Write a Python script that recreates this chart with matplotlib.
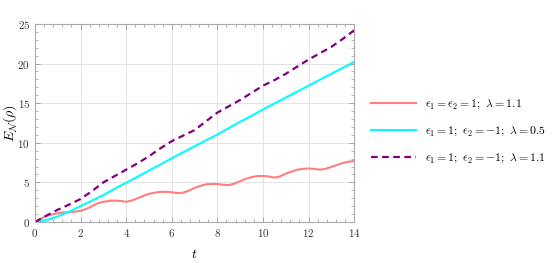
import matplotlib
matplotlib.use("Agg")
import matplotlib.pyplot as plt
from matplotlib.ticker import MultipleLocator, FuncFormatter

plt.rcParams['mathtext.fontset'] = 'cm'
plt.rcParams['font.family'] = 'serif'

# values
t = [0.0, 0.5, 1.0, 1.5, 2.0, 2.5, 3.0, 3.5, 4.0, 4.5, 5.0, 5.5, 6.0, 6.5,
     7.0, 7.5, 8.0, 8.5, 9.0, 9.5, 10.0, 10.5, 11.0, 11.5, 12.0, 12.5, 13.0,
     13.5, 14.0]

# red curve wiggles, so it is read at a finer step
t_red = [0.0, 0.25, 0.5, 0.75, 1.0, 1.25, 1.5, 1.75, 2.0, 2.25, 2.5, 2.75,
         3.0, 3.25, 3.5, 3.75, 4.0, 4.25, 4.5, 4.75, 5.0, 5.25, 5.5, 5.75,
         6.0, 6.25, 6.5, 6.75, 7.0, 7.25, 7.5, 7.75, 8.0, 8.25, 8.5, 8.75,
         9.0, 9.25, 9.5, 9.75, 10.0, 10.25, 10.5, 10.75, 11.0, 11.25, 11.5,
         11.75, 12.0, 12.25, 12.5, 12.75, 13.0, 13.25, 13.5, 13.75, 14.0]

red = [0.0, 0.4, 0.75, 0.95, 1.1, 1.2, 1.25, 1.3, 1.4, 1.65, 2.0, 2.35,
       2.55, 2.65, 2.7, 2.65, 2.55, 2.7, 3.0, 3.3, 3.55, 3.7, 3.8, 3.8,
       3.75, 3.65, 3.7, 3.95, 4.3, 4.55, 4.75, 4.8, 4.8, 4.7, 4.65, 4.85,
       5.15, 5.45, 5.65, 5.8, 5.8, 5.75, 5.6, 5.75, 6.1, 6.35, 6.6, 6.7,
       6.75, 6.7, 6.6, 6.7, 6.95, 7.2, 7.45, 7.6, 7.7]

cyan = [0.0, 0.25, 0.7, 1.3, 2.0, 2.7, 3.4, 4.2, 4.95, 5.7, 6.5, 7.25, 8.05,
        8.8, 9.55, 10.3, 11.05, 11.85, 12.65, 13.4, 14.2, 14.95, 15.7, 16.45,
        17.2, 17.95, 18.7, 19.45, 20.2]

purple = [0.0, 0.8, 1.55, 2.2, 2.9, 3.9, 5.0, 5.8, 6.6, 7.4, 8.3, 9.3, 10.2,
          10.9, 11.6, 12.7, 13.8, 14.6, 15.4, 16.3, 17.2, 17.9, 18.7, 19.6,
          20.5, 21.3, 22.1, 23.1, 24.2]

labels = [r'$\epsilon_1 = \epsilon_2 = 1;\ \lambda = 1.1$',
          r'$\epsilon_1 = 1;\ \epsilon_2 = -1;\ \lambda = 0.5$',
          r'$\epsilon_1 = 1;\ \epsilon_2 = -1;\ \lambda = 1.1$']

fig = plt.figure(figsize=(5.53, 2.63), dpi=100)
ax = fig.add_axes([0.0633, 0.156, 0.577, 0.753])

ax.plot(t_red, red, color='#ff7f7f', lw=1.5, label=labels[0])
ax.plot(t, cyan, color='#00ffff', lw=1.5, label=labels[1])
ax.plot(t, purple, color='#800080', lw=1.6, ls=(0, (3, 2)), label=labels[2])

ax.set_xlim(0, 14)
ax.set_ylim(0, 25)
ax.xaxis.set_major_locator(MultipleLocator(2))
ax.xaxis.set_minor_locator(MultipleLocator(0.4))
ax.yaxis.set_major_locator(MultipleLocator(5))
ax.yaxis.set_minor_locator(MultipleLocator(1))
fmt = FuncFormatter(lambda v, p: r'$%g$' % v)
ax.xaxis.set_major_formatter(fmt)
ax.yaxis.set_major_formatter(fmt)
ax.tick_params(which='both', direction='in', top=True, right=True,
               colors='#999999', labelcolor='#333333', labelsize=8)
ax.tick_params(which='major', length=3.5, width=0.6)
ax.tick_params(which='minor', length=2, width=0.5)
ax.grid(True, color='#e3e3e3', lw=0.7)
for s in ax.spines.values():
    s.set_color('#aaaaaa')
    s.set_linewidth(0.8)

ax.set_xlabel(r'$t$', fontsize=10, labelpad=6)
ax.set_ylabel(r'$E_{\mathcal{N}}(\rho)$', fontsize=10)
ax.yaxis.set_label_coords(-0.05, 0.5)

ax.legend(loc='center left', bbox_to_anchor=(1.02, 0.46), frameon=False,
          fontsize=8.5, handlelength=3.8, labelspacing=1.1, handletextpad=0.8)

fig.savefig('out.png', dpi=100)
